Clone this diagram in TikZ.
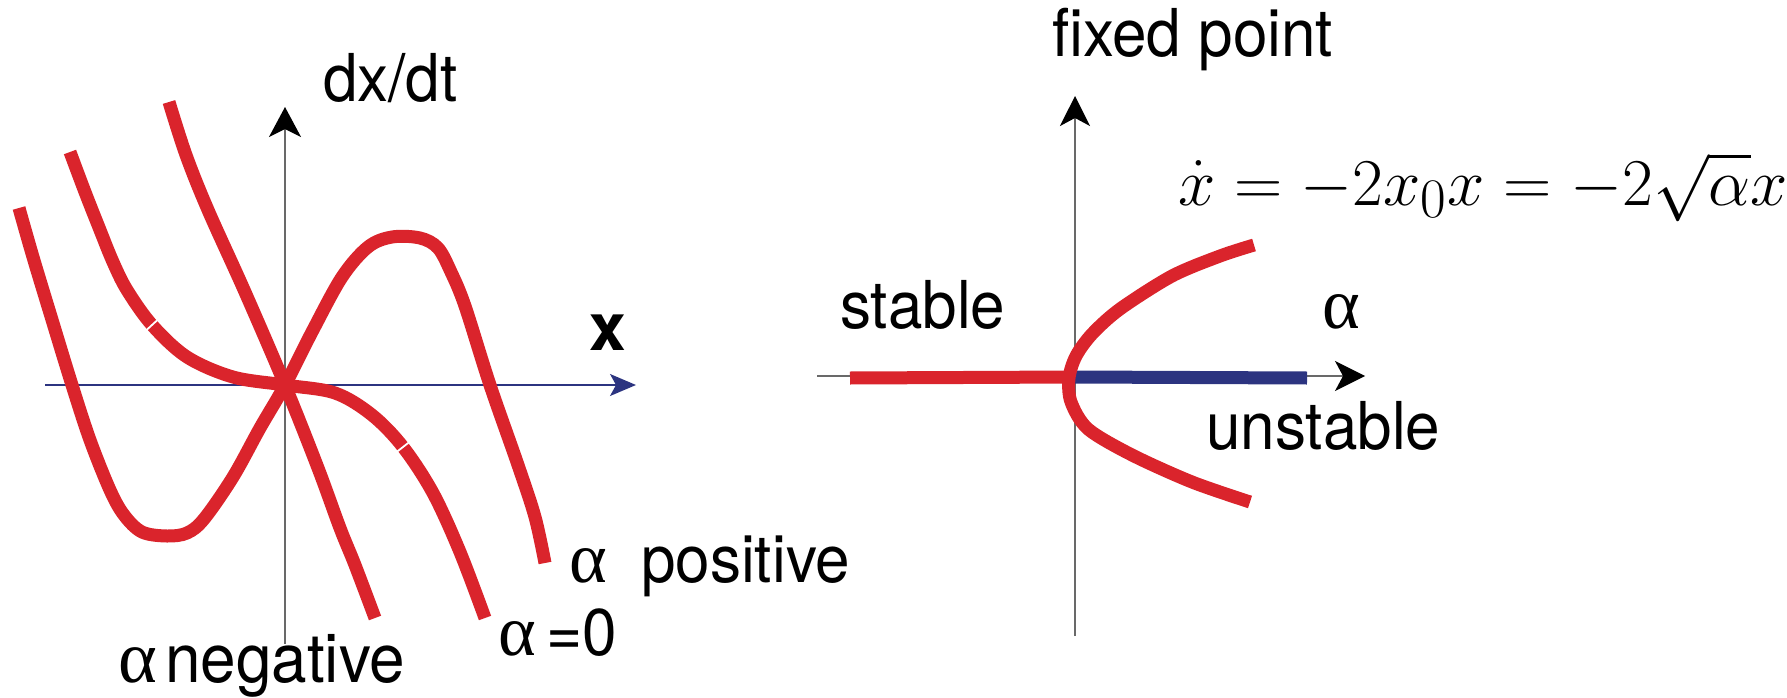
\documentclass[tikz,border=0pt]{standalone}
\usepackage{graphicx}
\usepackage[no-math]{fontspec}
\setmainfont{TeX Gyre Heros}[FakeStretch=0.94]
\newfontfamily\plainheros{TeX Gyre Heros}
\newfontfamily\grk{Liberation Serif}
\usetikzlibrary{arrows.meta}
\definecolor{cred}{RGB}{218,36,44}
\definecolor{cnavy}{RGB}{44,52,128}
\definecolor{caxis}{RGB}{105,105,105}
\begin{document}
\begin{tikzpicture}[x=1pt,y=-1pt,
  curve/.style={cred,line width=13pt,line cap=butt,line join=round},
  axisline/.style={caxis,line width=1.5pt},
  lbl/.style={inner sep=0pt,anchor=base west,font=\fontsize{66}{72}\selectfont},
  glbl/.style={inner sep=0pt,anchor=base west,font=\fontsize{72}{80}\selectfont\grk},
  gap/.style={white,line width=1.8pt}]
\useasboundingbox (0,0) rectangle (1787,698);

% ---------- left panel ----------
\coordinate (Lo) at (285,385);
\coordinate (Lxs) at (45,385);
\coordinate (Lxe) at (636,385);
\coordinate (Lys) at (285,644);
\coordinate (Lye) at (285,107);
\draw[cnavy,line width=1.5pt,-{Stealth[length=26pt,width=22pt,inset=6pt]}] (Lxs) -- (Lxe);
\draw[axisline,-{Stealth[length=30pt,width=32pt,inset=8pt,color=black]}] (Lys) -- (Lye);

% alpha positive
\draw[curve] plot[smooth,tension=0.55] coordinates {
 (19,208) (33,257) (53,323) (72,385) (90,440) (110,490) (124,515) (142,532)
 (167,536) (187,533) (204,519) (233,477) (260,428) (285,385) (313,330)
 (342,277) (368,247) (392,237) (420,238) (438,248) (451,272) (465,306)
 (490,385) (518,465) (535,517) (545,563)};
% alpha = 0
\draw[curve] plot[smooth,tension=0.55] coordinates {
 (70,152) (85,192) (100,230) (113,262) (127,290) (152,325) (187,357)
 (233,377) (285,385) (335,393) (372,415) (403,447) (433,493) (460,552) (485,618)};
% alpha negative
\draw[curve] plot[smooth,tension=0.55] coordinates {
 (169,102) (186,155) (208,210) (245,292) (285,385) (318,468) (340,528) (355,565) (375,618)};
% small white joins on the alpha = 0 curve
\draw[gap] (146,330.5) -- (158,319.5);
\draw[gap] (396.7,451.9) -- (409.3,442.1);

% labels
\node[lbl] (dxdt) at (323,102) {dx/dt};
\node[lbl,font=\fontsize{66}{72}\selectfont\plainheros\bfseries] (xlab) at (589,350) {x};
\node[glbl] (apos) at (569,582) {α};
\node[lbl] (pos) at (641,582) {positive};
\node[glbl] (azero) at (498,655) {α};
\node[lbl] (eqzero) at (546,655) {=0};
\node[glbl,font=\fontsize{74}{80}\selectfont\grk] (aneg) at (118,682) {α};
\node[lbl,font=\fontsize{68}{74}\selectfont] (neg) at (165,682) {negative};

% ---------- right panel ----------
\coordinate (Ro) at (1075,377);
\coordinate (Rxs) at (817,376);
\coordinate (Rxe) at (1365,376);
\coordinate (Rys) at (1075,636);
\coordinate (Rye) at (1075,96);
\draw[axisline,-{Stealth[length=30pt,width=30pt,inset=8pt,color=black]}] (Rxs) -- (Rxe);
\draw[axisline,-{Stealth[length=30pt,width=30pt,inset=8pt,color=black]}] (Rys) -- (Rye);
\coordinate (Sl) at (850,378);
\coordinate (Ur) at (1307,378);
\draw[cred,line width=13pt] (Sl) -- (Ro);
\draw[cnavy,line width=13pt] (Ro) -- (Ur);
\draw[curve] plot[smooth,tension=0.5] coordinates {
 (1254,245) (1220,256) (1172,276) (1120,309) (1092,334) (1076,356) (1069,378)
 (1071,402) (1088,429) (1132,455) (1192,482) (1250,502)};

\node[lbl] (fixed) at (1052,57) {fixed point};
\node[lbl] (stable) at (840,328) {stable};
\node[glbl] (alphaR) at (1322,328) {α};
\node[lbl] (unstable) at (1206,449) {unstable};
\node[inner sep=0pt,anchor=base west,font=\fontsize{24.88}{30}\selectfont] (eq) at (1178,205)
  {\scalebox{2.69}{$\dot{x} = -2x_0x = -2\sqrt{\alpha}x$}};
\end{tikzpicture}
\end{document}
